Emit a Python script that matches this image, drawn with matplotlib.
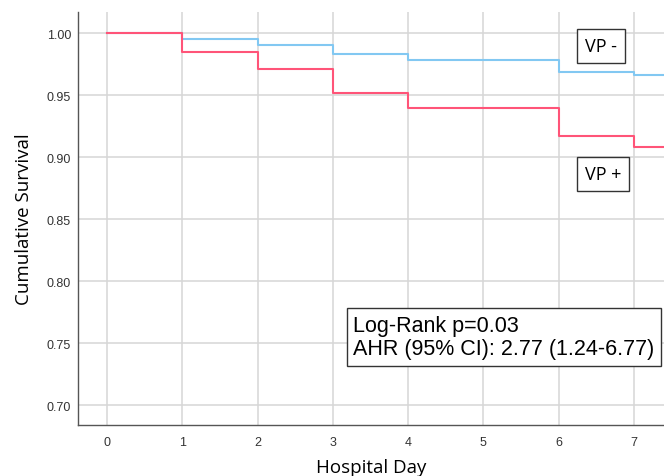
import matplotlib.pyplot as plt
import numpy as np

# Kaplan-Meier steps
days = [0, 1, 2, 3, 4, 5, 6, 7]
vp_neg = [1.000, 0.995, 0.990, 0.983, 0.978, 0.978, 0.969, 0.966]
vp_pos = [1.000, 0.985, 0.971, 0.952, 0.9395, 0.9395, 0.917, 0.908]
x_ticks = [0, 1, 2, 3, 4, 5, 6, 7]
y_ticks = [0.70, 0.75, 0.80, 0.85, 0.90, 0.95, 1.00]

W, H = 664, 477
fig = plt.figure(figsize=(W / 100, H / 100), dpi=100)
ax = fig.add_axes([78 / W, 51 / H, 1 - 78 / W, (426 - 13) / H])

xmax = 7.4
ax.step(days + [xmax], vp_neg + [vp_neg[-1]], where="post", color="#82c8f2", lw=1.5, zorder=3)
ax.step(days + [xmax], vp_pos + [vp_pos[-1]], where="post", color="#ff5478", lw=1.5, zorder=4)

ax.set_xlim(-0.385, xmax)
ax.set_ylim(0.6839, 1.017)
ax.set_xticks(x_ticks)
ax.set_yticks(y_ticks)
ax.set_yticklabels([f"{v:.2f}" for v in y_ticks])
ax.tick_params(length=0, labelsize=9, colors="#333333")
ax.tick_params(axis="y", pad=5)
ax.tick_params(axis="x", pad=8)
for lab in ax.get_xticklabels() + ax.get_yticklabels():
    lab.set_family("Liberation Sans")

ax.grid(True, color="#d6d6d6", lw=1.1)
ax.set_axisbelow(True)
for s in ["top", "right"]:
    ax.spines[s].set_visible(False)
for s in ["left", "bottom"]:
    ax.spines[s].set_color("#555555")
    ax.spines[s].set_linewidth(1.0)

ax.set_ylabel("Cumulative Survival", fontsize=13.5, family="Open Sans", labelpad=10)
ax.set_xlabel("Hospital Day", fontsize=13.5, family="Open Sans", labelpad=7)

box = dict(boxstyle="square,pad=0.45", fc="white", ec="#333333", lw=1.0)
fig.text(601 / W, 1 - 47 / H, "VP -", fontsize=13, family="Open Sans",
         ha="center", va="center", bbox=box)
fig.text(603 / W, 1 - 175 / H, "VP +", fontsize=13, family="Open Sans",
         ha="center", va="center", bbox=box)
fig.text(353 / W, 1 - 338 / H, "Log-Rank p=0.03\nAHR (95% CI): 2.77 (1.24-6.77)",
         fontsize=15.5, family="Liberation Sans", ha="left", va="center",
         linespacing=1.15, bbox=dict(boxstyle="square,pad=0.3", fc="white", ec="#333333", lw=1.0))

fig.savefig("out.png", dpi=100)
